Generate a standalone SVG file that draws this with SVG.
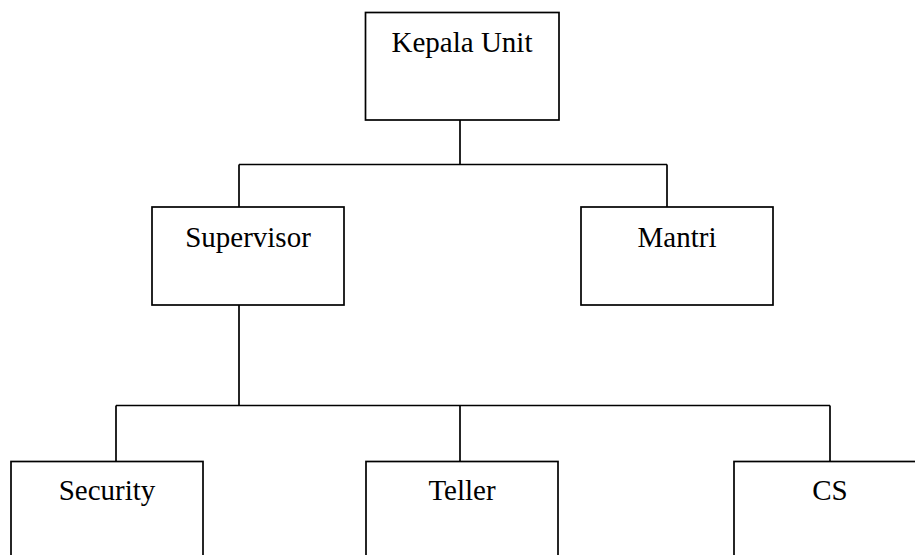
<svg xmlns="http://www.w3.org/2000/svg" width="915" height="555" viewBox="0 0 915 555">
<style>
.box{fill:#fff;stroke:#000;stroke-width:1.7}
.lbl{font-family:"Liberation Serif","Times New Roman",serif;font-size:29px;fill:#000;text-anchor:middle}
.con{fill:none;stroke:#000;stroke-width:1.7}
</style>
<rect width="915" height="555" fill="#fff"/>
<g id="connectors">
<path class="con" d="M460 120V164.5M239 164.5H667M239 164.5V207M667 164.5V207"/>
<path class="con" d="M239 305V405.5M116 405.5H830M116 405.5V461.5M460 405.5V461.5M830 405.5V461.5"/>
</g>
<g id="kepala-unit">
<rect class="box" x="365.5" y="12.5" width="193.5" height="107.5"/>
<text class="lbl" x="462" y="52">Kepala Unit</text>
</g>
<g id="supervisor">
<rect class="box" x="152" y="207" width="192" height="98"/>
<text class="lbl" x="248" y="247">Supervisor</text>
</g>
<g id="mantri">
<rect class="box" x="581" y="207" width="192" height="98"/>
<text class="lbl" x="677" y="247">Mantri</text>
</g>
<g id="security">
<rect class="box" x="11" y="461.5" width="192" height="110"/>
<text class="lbl" x="107" y="500">Security</text>
</g>
<g id="teller">
<rect class="box" x="366" y="461.5" width="192" height="110"/>
<text class="lbl" x="462" y="500">Teller</text>
</g>
<g id="cs">
<rect class="box" x="734" y="461.5" width="192" height="110"/>
<text class="lbl" x="830" y="500">CS</text>
</g>
</svg>
